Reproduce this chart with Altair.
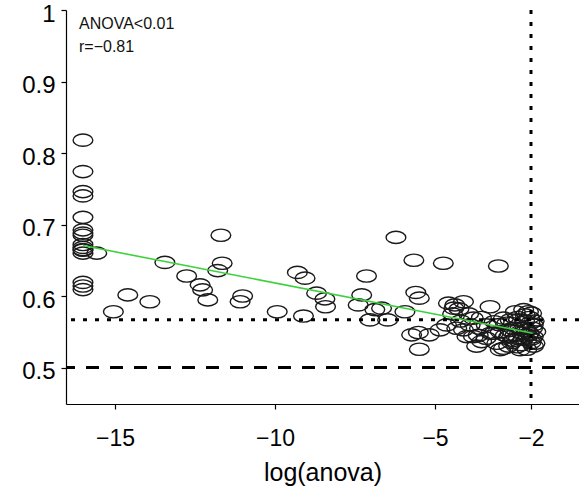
import altair as alt
import pandas as pd

# Scatter points: log(anova) vs value
px = [
    -16, -16, -16, -16, -16, -16, -16, -16, -16, -16, -16, -16, -16, -16, -16, -16,
    -15.57, -15.05, -14.60, -13.91, -13.44, -12.76, -12.34, -12.26, -12.10, -11.69,
    -11.65, -11.79, -11.01, -11.09, -9.93, -9.30, -9.06, -9.11, -8.70, -8.44, -8.42,
    -7.29, -7.14, -7.40, -6.88, -6.67, -7.03, -6.48, -6.22, -5.94, -5.66, -5.60,
    -5.49, -4.74, -3.02, -5.73, -5.49, -5.52, -5.18, -4.84, -4.58, -4.38, -4.11,
    -4.41, -4.64, -4.32, -4.00, -3.80, -3.61, -3.54, -3.28, -3.40, -3.70, -3.15,
    -2.96, -2.86, -2.70, -2.49, -2.23, -1.98, -2.39, -2.18, -1.93, -1.875, -2.13,
    -2.45, -2.60, -2.29, -2.03, -2.55, -2.76, -3.07, -3.90, -4.11, -3.40, -1.85,
    -2.13, -2.39, -2.86, -2.65, -2.18, -1.93, -3.80, -3.17, -2.96, -2.34,
    -2.05, -1.95, -2.10, -2.25, -2.00, -1.90, -2.20, -2.35, -2.50, -2.65, -2.80,
    -2.15, -2.05, -1.98, -2.30, -2.55, -2.42, -2.08, -1.92, -2.70, -3.00, -3.25,
    -3.55, -3.65, -4.20, -4.45, -4.25, -3.95,
]
py = [
    0.818, 0.774, 0.746, 0.740, 0.710, 0.6925, 0.688, 0.685, 0.672, 0.668, 0.665,
    0.664, 0.660, 0.619, 0.614, 0.609,
    0.660, 0.578, 0.6016, 0.592, 0.647, 0.628, 0.6156, 0.6086, 0.5946, 0.685,
    0.6459, 0.6356, 0.600, 0.592, 0.578, 0.633, 0.625, 0.572, 0.604, 0.596, 0.585,
    0.6016, 0.628, 0.5876, 0.581, 0.583, 0.5666, 0.5666, 0.682, 0.578, 0.650, 0.605,
    0.597, 0.6459, 0.642, 0.5457, 0.5256, 0.549, 0.5457, 0.5527, 0.590, 0.5876, 0.592,
    0.583, 0.5596, 0.555, 0.5433, 0.569, 0.555, 0.5363, 0.585, 0.541, 0.530, 0.564,
    0.550, 0.527, 0.543, 0.578, 0.581, 0.576, 0.5666, 0.555, 0.543, 0.534, 0.5256,
    0.529, 0.535, 0.548, 0.562, 0.555, 0.562, 0.534, 0.5596, 0.5527, 0.5596, 0.550,
    0.5387, 0.541, 0.569, 0.5666, 0.5736, 0.5596, 0.5433, 0.548, 0.525, 0.525,
    0.570, 0.555, 0.545, 0.540, 0.535, 0.565, 0.565, 0.555, 0.545, 0.552, 0.545,
    0.552, 0.548, 0.540, 0.532, 0.538, 0.570, 0.578, 0.530, 0.530, 0.560, 0.548,
    0.570, 0.545, 0.565, 0.575, 0.582, 0.575,
]

# Fitted line end points
fit_x = [-16.0, -1.95]
fit_y = [0.6706, 0.548]

# Reference lines
h_dash = [0.5]
h_dot = [0.5667]
v_dot = [-2]

x_ticks = [-15, -10, -5, -2]
y_ticks = [0.5, 0.6, 0.7, 0.8, 0.9, 1.0]

annot = ["ANOVA<0.01", "r=\u22120.81"]

FONT = "Liberation Sans"

pts = pd.DataFrame({"x": px, "y": py})
fit = pd.DataFrame({"x": fit_x, "y": fit_y})

xscale = alt.Scale(domain=[-16.53, -0.5], nice=False, zero=False)
yscale = alt.Scale(domain=[0.449, 1.0], nice=False, zero=False)

ellipse = "M -1 0 A 1 0.62 0 1 1 1 0 A 1 0.62 0 1 1 -1 0 Z"

points = alt.Chart(pts).mark_point(
    shape=ellipse, size=390, filled=False, stroke="#1a1a1a", strokeWidth=1.4, opacity=1
).encode(
    x=alt.X("x:Q", scale=xscale,
            axis=alt.Axis(values=x_ticks, title="log(anova)", format="d")),
    y=alt.Y("y:Q", scale=yscale,
            axis=alt.Axis(values=y_ticks, title=None,
                          labelExpr="datum.value == 1 ? '1' : format(datum.value, '.1f')")),
)

dash = alt.Chart(pd.DataFrame({"y": h_dash})).mark_rule(
    color="black", strokeWidth=3, strokeDash=[13, 11]
).encode(y=alt.Y("y:Q", scale=yscale))

dot_h = alt.Chart(pd.DataFrame({"y": h_dot})).mark_rule(
    color="black", strokeWidth=3, strokeDash=[4, 8]
).encode(y=alt.Y("y:Q", scale=yscale))

dot_v = alt.Chart(pd.DataFrame({"x": v_dot})).mark_rule(
    color="black", strokeWidth=3, strokeDash=[4, 8]
).encode(x=alt.X("x:Q", scale=xscale))

line = alt.Chart(fit).mark_line(color="#3dd23d", strokeWidth=1.6).encode(
    x=alt.X("x:Q", scale=xscale), y=alt.Y("y:Q", scale=yscale)
)

t1 = alt.Chart(pd.DataFrame({"t": [annot[0]]})).mark_text(
    align="left", baseline="middle", font=FONT, fontSize=16, color="#111"
).encode(text="t:N", x=alt.value(13), y=alt.value(14))

t2 = alt.Chart(pd.DataFrame({"t": [annot[1]]})).mark_text(
    align="left", baseline="middle", font=FONT, fontSize=16, color="#111"
).encode(text="t:N", x=alt.value(13), y=alt.value(37))

chart = alt.layer(points, dash, dot_h, dot_v, line, t1, t2).properties(
    width=513, height=394,
    padding={"left": 66, "top": 10, "right": 0, "bottom": 91},
    autosize=alt.AutoSizeParams(type="none"),
    background="white",
).configure_view(stroke=None).configure_axis(
    grid=False, domainColor="black", domainWidth=1.2, tickColor="black",
    tickSize=5, tickWidth=1.2, labelFont=FONT, labelFontSize=24, labelColor="black",
    titleFont=FONT, titleFontSize=25, titleFontWeight="normal", titleColor="black",
).configure_axisX(labelPadding=18, labelFontSize=23, titlePadding=10, labelFlush=False
).configure_axisY(labelPadding=6, labelOffset=4, labelFlush=False, labelOverlap=False)

chart.save("out.html", embed_options={"renderer": "svg", "actions": False})
